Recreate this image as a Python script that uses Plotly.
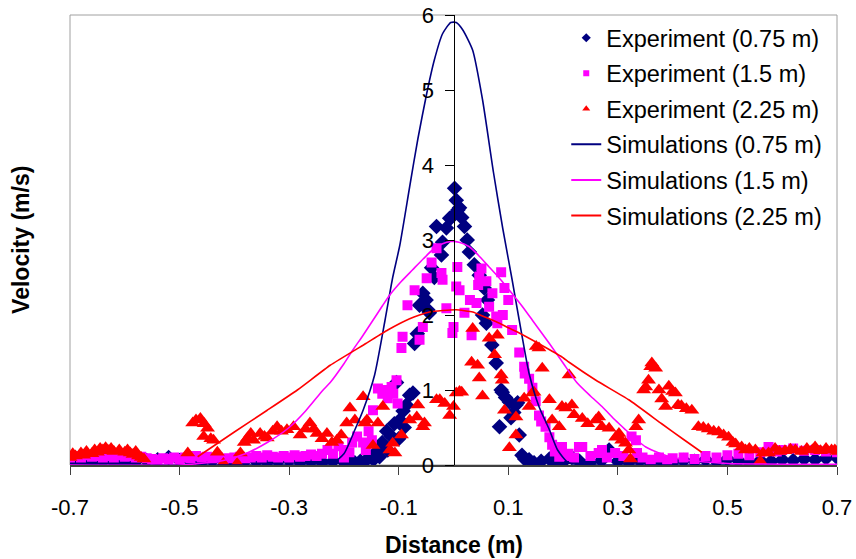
import plotly.graph_objects as go

# ---------------- data ----------------
EXP075_X = [-0.70,-0.68,-0.66,-0.64,-0.62,-0.60,-0.58,-0.56,-0.54,-0.52,-0.50,-0.48,-0.46,-0.44,-0.42,-0.40,
            -0.38,-0.36,-0.34,-0.32,-0.30,-0.28,-0.26,-0.24,-0.22,-0.20,-0.19,-0.18,-0.17,-0.16,-0.15,-0.14,
            -0.135,-0.13,-0.122,-0.113,-0.108,-0.098,-0.092,-0.086,-0.08,-0.104,-0.074,-0.071,-0.066,-0.062,
            -0.056,-0.047,-0.044,-0.04,-0.031,-0.022,-0.02,-0.013,-0.007,-0.004,0.002,0.005,0.008,0.011,0.02,
            0.029,0.038,0.047,0.056,0.053,0.06,0.078,0.084,0.087,0.089,0.102,0.105,0.114,0.117,0.125,0.13,
            0.138,0.147,0.16,0.175,0.185,0.2,0.216,0.23,0.25,0.27,0.284,0.30,0.32,0.34,0.36,0.38,0.40,0.42,
            0.44,0.46,0.48,0.50,0.52,0.54,0.56,0.58,0.60,0.62,0.64,0.66,0.68,0.70,
            -0.05,-0.035,0.015,0.025,0.062,0.07,0.095,0.11,-0.09,-0.10,-0.12,-0.145,0.12]
EXP075_Y = [0.03,0.04,0.03,0.05,0.04,0.03,0.05,0.06,0.07,0.10,0.06,0.05,0.04,0.06,0.05,0.04,
            0.06,0.05,0.04,0.05,0.06,0.04,0.05,0.04,0.05,0.04,0.06,0.03,0.05,0.06,0.10,0.18,
            0.11,0.30,0.45,0.38,0.55,0.60,0.72,0.80,0.93,1.10,0.96,1.62,1.75,2.13,
            2.29,2.07,2.03,2.63,3.18,2.80,2.97,3.16,3.29,3.30,3.69,3.53,3.40,3.43,3.18,
            2.84,2.67,2.53,2.36,2.00,1.89,1.36,0.51,1.00,0.97,0.84,0.63,0.80,0.83,0.13,0.08,
            0.07,0.03,0.05,0.08,0.05,0.04,0.10,0.05,0.04,0.06,0.20,0.05,0.04,0.06,0.03,0.05,0.04,0.06,
            0.05,0.07,0.05,0.08,0.06,0.04,0.06,0.05,0.07,0.06,0.08,0.07,0.09,0.10,
            2.20,2.50,3.30,3.00,2.20,1.60,0.90,0.70,0.50,0.35,0.20,0.08,0.40]

EXP15_X = [-0.70,-0.69,-0.68,-0.67,-0.66,-0.65,-0.64,-0.63,-0.62,-0.61,-0.60,-0.59,-0.58,-0.57,-0.56,-0.55,
           -0.54,-0.53,-0.52,-0.51,-0.50,-0.49,-0.48,-0.47,-0.46,-0.45,-0.44,-0.43,-0.42,-0.41,-0.40,-0.39,
           -0.38,-0.37,-0.36,-0.35,-0.34,-0.33,-0.32,-0.31,-0.30,-0.29,-0.28,-0.27,-0.26,-0.25,-0.24,-0.23,
           -0.22,-0.21,-0.20,-0.19,-0.185,-0.176,-0.165,-0.149,-0.147,-0.138,-0.13,-0.12,-0.113,-0.104,-0.102,
           -0.095,-0.093,-0.084,-0.071,-0.062,-0.056,-0.049,-0.031,-0.022,-0.02,-0.013,-0.002,0.0,0.005,0.007,
           0.011,0.02,0.033,0.042,0.045,0.047,0.051,0.065,0.071,0.078,0.08,0.087,0.093,0.10,0.107,0.12,0.129,
           0.138,0.144,0.15,0.156,0.168,0.175,0.18,0.193,0.198,0.21,0.22,0.229,0.235,0.25,0.265,0.271,0.28,
           0.295,0.31,0.325,0.333,0.335,0.345,0.36,0.375,0.39,0.40,0.42,0.44,0.46,0.48,0.50,0.52,0.54,0.56,
           0.575,0.59,0.60,0.62,0.64,0.66,0.68,0.70,
           -0.04,0.03,0.06,0.09,0.13,0.16,-0.11,-0.125,-0.16,-0.20,-0.155,0.185,0.205]
EXP15_Y = [0.10,0.12,0.10,0.13,0.11,0.12,0.10,0.12,0.10,0.13,0.11,0.12,0.10,0.11,0.09,0.08,
           0.07,0.09,0.08,0.10,0.08,0.10,0.09,0.12,0.10,0.11,0.09,0.10,0.08,0.09,0.10,0.11,
           0.09,0.10,0.12,0.10,0.13,0.11,0.10,0.12,0.10,0.13,0.11,0.12,0.14,0.12,0.15,0.20,
           0.15,0.25,0.20,0.17,0.30,0.38,0.30,0.33,0.73,1.02,0.95,0.89,1.04,1.13,0.82,
           1.56,1.71,2.13,2.33,1.67,1.84,2.49,2.89,2.56,2.47,2.09,1.76,1.84,2.38,2.64,
           2.33,2.03,1.73,2.16,2.40,2.51,2.62,2.11,2.29,1.98,1.89,2.57,2.36,2.20,1.80,1.50,1.31,
           1.15,1.03,0.85,0.66,0.51,0.37,0.27,0.11,0.24,0.15,0.10,0.24,0.24,0.12,0.16,0.20,0.10,
           0.16,0.12,0.38,0.33,0.16,0.10,0.07,0.10,0.06,0.09,0.10,0.08,0.12,0.10,0.13,0.15,0.13,0.17,
           0.24,0.18,0.20,0.22,0.19,0.20,0.18,0.17,
           2.70,2.20,2.45,2.00,1.22,0.58,0.95,1.00,0.20,0.10,0.45,0.18,0.12]

EXP225_X = [-0.70,-0.695,-0.69,-0.68,-0.675,-0.67,-0.66,-0.655,-0.65,-0.645,-0.64,-0.635,-0.63,-0.625,-0.62,
            -0.61,-0.60,-0.595,-0.59,-0.585,-0.58,-0.575,-0.57,-0.565,-0.485,-0.476,-0.47,-0.462,-0.455,-0.449,
            -0.456,-0.443,-0.438,-0.431,-0.42,-0.395,-0.389,-0.382,-0.376,-0.37,-0.365,-0.353,-0.345,-0.34,
            -0.33,-0.322,-0.314,-0.304,-0.292,-0.28,-0.27,-0.262,-0.255,-0.249,-0.24,-0.231,-0.222,-0.213,
            -0.205,-0.195,-0.189,-0.18,-0.165,-0.162,-0.158,-0.147,-0.138,-0.129,-0.116,-0.111,-0.107,-0.095,
            -0.08,-0.067,-0.065,-0.056,-0.053,-0.031,-0.025,-0.016,-0.007,0.0,0.005,0.011,0.015,0.033,0.035,
            0.044,0.047,0.053,0.065,0.075,0.08,0.087,0.089,0.093,0.102,0.114,0.114,0.129,0.138,0.144,0.147,
            0.151,0.156,0.162,0.175,0.18,0.193,0.198,0.205,0.211,0.216,0.22,0.235,0.245,0.26,0.265,0.271,
            0.284,0.296,0.302,0.307,0.314,0.32,0.323,0.333,0.338,0.347,0.351,0.356,0.36,0.362,0.369,0.375,
            0.38,0.387,0.393,0.40,0.405,0.41,0.416,0.425,0.435,0.447,0.456,0.465,0.475,0.484,0.493,0.502,
            0.51,0.515,0.526,0.533,0.54,0.551,0.56,0.565,0.575,0.587,0.595,0.605,0.615,0.624,0.635,0.645,
            0.655,0.66,0.67,0.68,0.69,0.696,0.70]
EXP225_Y = [0.10,0.15,0.12,0.16,0.13,0.18,0.15,0.20,0.17,0.22,0.20,0.23,0.19,0.22,0.18,
            0.20,0.17,0.20,0.16,0.14,0.18,0.12,0.10,0.08,0.16,0.56,0.60,0.62,0.55,0.49,
            0.38,0.35,0.33,0.17,0.02,0.02,0.16,0.30,0.36,0.42,0.33,0.42,0.38,0.36,
            0.45,0.51,0.45,0.47,0.51,0.40,0.48,0.56,0.48,0.42,0.35,0.42,0.30,0.33,
            0.40,0.56,0.76,0.60,0.91,0.56,0.60,0.26,0.56,0.78,0.20,0.29,0.16,0.40,
            0.60,0.64,0.80,0.51,0.56,0.87,0.87,0.82,0.66,0.78,0.96,0.98,0.97,1.37,1.82,
            1.33,1.16,0.92,1.69,1.47,1.73,1.20,1.13,0.73,0.23,0.64,0.40,0.89,0.78,0.96,0.97,
            1.58,1.56,1.29,0.87,0.60,0.51,0.78,0.76,1.20,0.80,0.67,0.62,0.55,0.60,0.64,0.51,
            0.49,0.37,0.42,0.33,0.29,0.20,0.08,0.51,0.60,1.00,1.04,1.13,1.31,1.36,1.29,1.00,
            0.88,0.78,1.05,0.98,0.96,0.80,0.79,0.75,0.73,0.51,0.50,0.48,0.45,0.44,0.40,0.37,
            0.30,0.28,0.24,0.20,0.22,0.20,0.05,0.16,0.16,0.22,0.18,0.19,0.21,0.20,0.18,0.22,
            0.20,0.24,0.19,0.22,0.20,0.20,0.18]

SIM075_X = [-0.70,-0.30,-0.25,-0.22,-0.20,-0.18,-0.165,-0.144,-0.125,-0.111,-0.098,-0.08,-0.065,-0.049,
            -0.035,-0.02,-0.005,0.005,0.017,0.035,0.053,0.073,0.09,0.107,0.12,0.138,0.156,0.175,0.19,0.21,
            0.25,0.30,0.70]
SIM075_Y = [0.0,0.0,0.0,0.03,0.15,0.47,0.73,1.20,1.93,2.50,2.93,3.71,4.35,4.95,5.40,5.75,5.90,5.90,5.80,
            5.53,4.87,3.90,3.15,2.47,1.93,1.22,0.78,0.47,0.20,0.03,0.0,0.0,0.0]

SIM15_X = [-0.70,-0.50,-0.45,-0.42,-0.38,-0.34,-0.30,-0.27,-0.238,-0.225,-0.20,-0.184,-0.165,-0.147,-0.13,
           -0.116,-0.095,-0.075,-0.055,-0.038,-0.02,-0.005,0.01,0.029,0.045,0.065,0.085,0.102,0.125,0.144,
           0.16,0.175,0.20,0.225,0.25,0.271,0.295,0.314,0.335,0.351,0.375,0.40,0.43,0.46,0.50,0.70]
SIM15_Y = [0.0,0.0,0.03,0.06,0.15,0.30,0.50,0.72,1.00,1.10,1.35,1.53,1.73,1.93,2.12,
           2.27,2.45,2.60,2.75,2.87,2.95,2.98,2.97,2.91,2.80,2.64,2.48,2.33,2.12,1.93,
           1.77,1.62,1.36,1.10,0.92,0.78,0.60,0.47,0.33,0.24,0.16,0.10,0.06,0.04,0.02,0.01]

SIM225_X = [-0.467,-0.40,-0.34,-0.285,-0.225,-0.16,-0.12,-0.08,-0.062,-0.044,-0.02,0.005,0.035,0.055,
            0.078,0.10,0.12,0.16,0.198,0.211,0.26,0.32,0.38,0.42,0.453]
SIM225_Y = [0.11,0.44,0.73,1.00,1.33,1.62,1.80,1.95,2.00,2.04,2.06,2.07,2.04,1.98,
            1.91,1.83,1.76,1.60,1.44,1.37,1.13,0.87,0.55,0.34,0.17]

X_TICKS = [-0.7, -0.5, -0.3, -0.1, 0.1, 0.3, 0.5, 0.7]
Y_TICKS = [0, 1, 2, 3, 4, 5, 6]

NAMES = ["Experiment (0.75 m)", "Experiment (1.5 m)", "Experiment (2.25 m)",
         "Simulations (0.75 m)", "Simulations (1.5 m)", "Simulations (2.25 m)"]

# ---------------- styling ----------------
NAVY = "#000080"
MAGENTA = "#FF00FF"
RED = "#FF0000"
FONT = "Liberation Sans, Arial, sans-serif"

fig = go.Figure()

fig.add_trace(go.Scatter(x=EXP075_X, y=EXP075_Y, mode="markers", showlegend=False,
                         marker=dict(symbol="diamond", size=12, color=NAVY)))
fig.add_trace(go.Scatter(x=EXP15_X, y=EXP15_Y, mode="markers", showlegend=False,
                         marker=dict(symbol="square", size=10, color=MAGENTA)))
fig.add_trace(go.Scatter(x=EXP225_X, y=EXP225_Y, mode="markers", showlegend=False,
                         marker=dict(symbol="triangle-up", size=13, color=RED)))
fig.add_trace(go.Scatter(x=SIM075_X, y=SIM075_Y, mode="lines", showlegend=False,
                         line=dict(color=NAVY, width=1.6, shape="spline", smoothing=0.6)))
fig.add_trace(go.Scatter(x=SIM15_X, y=SIM15_Y, mode="lines", showlegend=False,
                         line=dict(color=MAGENTA, width=1.6, shape="spline", smoothing=0.6)))
fig.add_trace(go.Scatter(x=SIM225_X, y=SIM225_Y, mode="lines", showlegend=False,
                         line=dict(color=RED, width=1.6, shape="spline", smoothing=0.4)))

leg_specs = [
    dict(mode="markers", marker=dict(symbol="diamond", size=7, color=NAVY)),
    dict(mode="markers", marker=dict(symbol="square", size=6, color=MAGENTA)),
    dict(mode="markers", marker=dict(symbol="triangle-up", size=7, color=RED)),
    dict(mode="lines", line=dict(color=NAVY, width=2)),
    dict(mode="lines", line=dict(color=MAGENTA, width=2)),
    dict(mode="lines", line=dict(color=RED, width=2)),
]
for i, (name, spec) in enumerate(zip(NAMES, leg_specs)):
    fig.add_trace(go.Scatter(x=[None], y=[None], name=name, legendgroup=f"g{i}", **spec))

fig.update_layout(
    width=856, height=559, autosize=False,
    margin=dict(l=70, r=19, t=15, b=94, autoexpand=False),
    paper_bgcolor="white", plot_bgcolor="white",
    font=dict(family=FONT, size=22, color="black"),
    showlegend=True,
    legend=dict(x=0.647, y=0.998, xanchor="left", yanchor="top",
                bgcolor="rgba(0,0,0,0)", borderwidth=0,
                font=dict(family=FONT, size=23.5, color="black"),
                traceorder="grouped", tracegroupgap=2, itemwidth=30),
    xaxis=dict(range=[-0.7, 0.7], tickvals=X_TICKS, ticktext=[f"{v:g}" for v in X_TICKS],
               ticks="outside", ticklen=8, tickcolor="#404040", tickwidth=1,
               showline=True, linecolor="#404040", linewidth=1.5, automargin=False,
               showgrid=False, zeroline=False, ticklabelstandoff=14,
               tickfont=dict(family=FONT, size=22)),
    yaxis=dict(range=[0, 6], tickvals=Y_TICKS, anchor="free", position=0.5,
               ticks="outside", ticklen=9, tickcolor="black", tickwidth=1,
               showline=True, linecolor="black", linewidth=1, automargin=False,
               showgrid=False, zeroline=False, ticklabelstandoff=6,
               tickfont=dict(family=FONT, size=22)),
    shapes=[dict(type="rect", xref="paper", yref="paper", x0=0, y0=0, x1=1, y1=1,
                 line=dict(color="#A0A0A0", width=1), layer="below")],
    annotations=[
        dict(text="<b>Distance (m)</b>", xref="paper", yref="paper", x=0.5, y=-0.178,
             xanchor="center", yanchor="middle", showarrow=False,
             font=dict(family=FONT, size=23, color="black")),
        dict(text="<b>Velocity (m/s)</b>", xref="paper", yref="paper", x=-0.064, y=0.5,
             xanchor="center", yanchor="middle", textangle=-90, showarrow=False,
             font=dict(family=FONT, size=23, color="black")),
    ],
)

fig.write_html("out.html")
